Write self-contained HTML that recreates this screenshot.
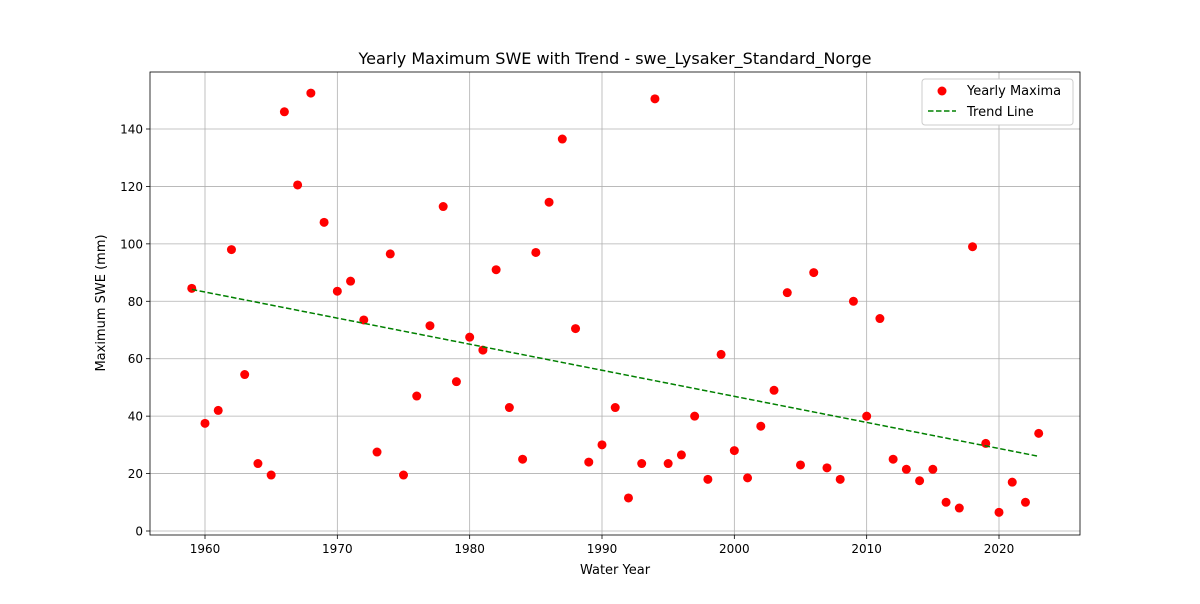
<!DOCTYPE html>
<html><head><meta charset="utf-8"><style>
body{margin:0;background:#fff;font-family:"DejaVu Sans","Liberation Sans",sans-serif}
</style></head><body>
<svg id="c" width="1200" height="600" xmlns="http://www.w3.org/2000/svg" font-family="DejaVu Sans, Liberation Sans, sans-serif"></svg>
<script>
const years=[1959,1960,1961,1962,1963,1964,1965,1966,1967,1968,1969,1970,1971,1972,1973,1974,1975,1976,1977,1978,1979,1980,1981,1982,1983,1984,1985,1986,1987,1988,1989,1990,1991,1992,1993,1994,1995,1996,1997,1998,1999,2000,2001,2002,2003,2004,2005,2006,2007,2008,2009,2010,2011,2012,2013,2014,2015,2016,2017,2018,2019,2020,2021,2022,2023];
const sweMax=[84.5,37.5,42,98,54.5,23.5,19.5,146,120.5,152.5,107.5,83.5,87,73.5,27.5,96.5,19.5,47,71.5,113,52,67.5,63,91,43,25,97,114.5,136.5,70.5,24,30,43,11.5,23.5,150.5,23.5,26.5,40,18,61.5,28,18.5,36.5,49,83,23,90,22,18,80,40,74,25,21.5,17.5,21.5,10,8,99,30.5,6.5,17,10,34];
const xTicks=[1960,1970,1980,1990,2000,2010,2020];
const yTicks=[0,20,40,60,80,100,120,140];
const L=150,R=1080,T=72,B=535;
const X=v=>205+(v-1960)*(999-205)/60;
const Y=v=>531-v*(531-129)/140;
const svg=document.getElementById('c');const NS='http://www.w3.org/2000/svg';
function mk(t,a,p){const e=document.createElementNS(NS,t);for(const k in a)e.setAttribute(k,a[k]);(p||svg).appendChild(e);return e;}
let e;
e=mk('rect',{x:L,y:T,width:R-L,height:B-T,fill:'#fff'});


xTicks.forEach(t=>{const x=X(t);
e=mk('line',{x1:x,x2:x,y1:T,y2:B,stroke:'#b0b0b0','stroke-width':0.8});


mk('line',{x1:x,x2:x,y1:B,y2:B+4,stroke:'#000','stroke-width':0.8});
e=mk('text',{x:x,y:B+18,'text-anchor':'middle','font-size':12});e.textContent=t;

});
yTicks.forEach(t=>{const y=Y(t);
e=mk('line',{x1:L,x2:R,y1:y,y2:y,stroke:'#b0b0b0','stroke-width':0.8});


mk('line',{x1:L-4,x2:L,y1:y,y2:y,stroke:'#000','stroke-width':0.8});
e=mk('text',{x:L-7,y:y+4.5,'text-anchor':'end','font-size':12});e.textContent=t;

});
const n=years.length,mx=years.reduce((a,b)=>a+b)/n,my=sweMax.reduce((a,b)=>a+b)/n;
let sxy=0,sxx=0;years.forEach((x,i)=>{sxy+=(x-mx)*(sweMax[i]-my);sxx+=(x-mx)**2;});
const sl=sxy/sxx,ic=my-sl*mx;
years.forEach((yr,i)=>{e=mk('circle',{cx:X(yr),cy:Y(sweMax[i]),r:4.5,fill:'#ff0000'});

});
const y0=years[0],y1=years[n-1];
e=mk('line',{x1:X(y0),y1:Y(ic+sl*y0),x2:X(y1),y2:Y(ic+sl*y1),stroke:'#008000','stroke-width':1.5,'stroke-dasharray':'5.5,2.5'});


e=mk('rect',{x:L,y:T,width:R-L,height:B-T,fill:'none',stroke:'#000','stroke-width':0.8});


e=mk('text',{x:(L+R)/2,y:T-8,'text-anchor':'middle','font-size':16});e.textContent='Yearly Maximum SWE with Trend - swe_Lysaker_Standard_Norge';


e=mk('text',{x:(L+R)/2,y:574,'text-anchor':'middle','font-size':13});e.textContent='Water Year';


e=mk('text',{x:0,y:0,'text-anchor':'middle','font-size':13,transform:'translate(105,303) rotate(-90)'});e.textContent='Maximum SWE (mm)';


const g=mk('g',{});


mk('rect',{x:922,y:79,width:151,height:46,rx:3,fill:'#fff',stroke:'#ccc'},g);
mk('circle',{cx:942,cy:91,r:4.5,fill:'#ff0000'},g);
e=mk('text',{x:967,y:95,'font-size':13},g);e.textContent='Yearly Maxima';


mk('line',{x1:928,x2:956,y1:111,y2:111,stroke:'#008000','stroke-width':1.5,'stroke-dasharray':'5.5,2.5'},g);
e=mk('text',{x:967,y:116,'font-size':13},g);e.textContent='Trend Line';


</script>
</body></html>
